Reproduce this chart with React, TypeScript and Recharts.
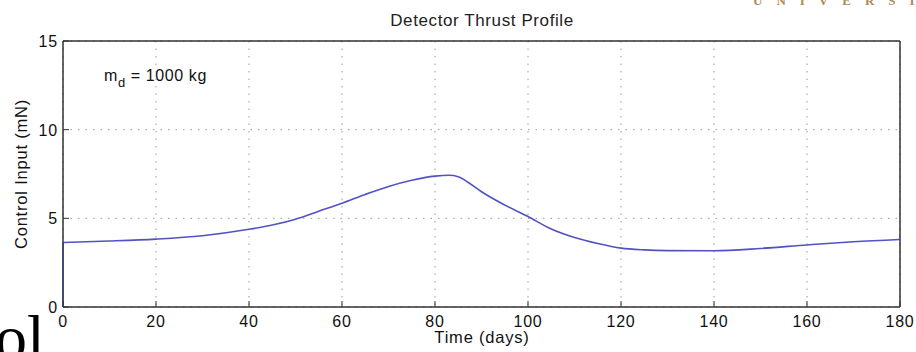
import React from "react";
import { LineChart, Line, XAxis, YAxis, CartesianGrid, ReferenceArea } from "recharts";

const days = [0, 10, 20, 30, 40, 45, 50, 55, 60, 65, 70, 75, 80, 83, 85, 87, 90, 95, 100, 105, 110, 115, 120, 125, 130, 140, 150, 160, 170, 180];
const thrust = [3.64, 3.72, 3.83, 4.02, 4.38, 4.62, 4.95, 5.4, 5.85, 6.35, 6.8, 7.15, 7.38, 7.43, 7.35, 7.05, 6.5, 5.75, 5.1, 4.4, 3.92, 3.58, 3.32, 3.22, 3.18, 3.17, 3.3, 3.5, 3.68, 3.81];
const startDays = [0, 0];
const startThrust = [0, 3.64];
const xTicks = [0, 20, 40, 60, 80, 100, 120, 140, 160, 180];
const yTicks = [0, 5, 10, 15];

const data = days.map((t, i) => ({ t, v: thrust[i] }));
const startData = startDays.map((t, i) => ({ t, v: startThrust[i] }));

const FONT = "'Liberation Sans', Arial, Helvetica, sans-serif";
const AXIS = "#333";

const BottomTick = (props: any) => {
  const { x, y, payload } = props;
  return (
    <text x={x} y={y + 26} textAnchor="middle" fontSize={16} letterSpacing={0.8} fill="#111" fontFamily={FONT}>
      {payload.value}
    </text>
  );
};
const LeftTick = (props: any) => {
  const { x, y, payload } = props;
  return (
    <text x={x - 11} y={y + 6} textAnchor="end" fontSize={16} letterSpacing={0.8} fill="#111" fontFamily={FONT}>
      {payload.value}
    </text>
  );
};
const NoTick = () => <g />;

export default function App() {
  return (
    <div style={{ position: "absolute", left: 0, top: 0, width: 916, height: 352, background: "#fff", overflow: "hidden" }}>
      <LineChart width={916} height={352} margin={{ top: 40, right: 15, bottom: 0, left: 0 }}>
        <CartesianGrid
          xAxisId="bottom"
          yAxisId="left"
          stroke="#9a9a9a"
          strokeDasharray="1.5 6"
          verticalValues={xTicks}
          horizontalValues={yTicks}
        />
        <XAxis
          xAxisId="bottom"
          dataKey="t"
          type="number"
          domain={[0, 180]}
          ticks={xTicks}
          height={45}
          tickSize={-6}
          tickMargin={0}
          tickLine={{ stroke: AXIS }}
          tick={<BottomTick />}
          axisLine={{ stroke: AXIS }}
          interval={0}
          allowDuplicatedCategory
        />
        <XAxis
          xAxisId="top"
          orientation="top"
          dataKey="t"
          type="number"
          domain={[0, 180]}
          ticks={xTicks}
          height={1}
          tickSize={-6}
          tickMargin={0}
          tickLine={{ stroke: AXIS }}
          tick={<NoTick />}
          axisLine={{ stroke: AXIS }}
          interval={0}
        />
        <YAxis
          yAxisId="left"
          type="number"
          domain={[0, 15]}
          ticks={yTicks}
          width={63}
          tickSize={-6}
          tickMargin={0}
          tickLine={{ stroke: AXIS }}
          tick={<LeftTick />}
          axisLine={{ stroke: AXIS }}
          interval={0}
        />
        <YAxis
          yAxisId="right"
          orientation="right"
          type="number"
          domain={[0, 15]}
          ticks={yTicks}
          width={1}
          tickSize={-6}
          tickMargin={0}
          tickLine={{ stroke: AXIS }}
          tick={<NoTick />}
          axisLine={{ stroke: AXIS }}
          interval={0}
        />
        <ReferenceArea
          xAxisId="bottom"
          yAxisId="left"
          x1={0}
          x2={180}
          y1={0}
          y2={15}
          fill="none"
          fillOpacity={0}
          stroke={AXIS}
          strokeWidth={1}
          ifOverflow="visible"
        />
        <Line
          xAxisId="bottom"
          yAxisId="left"
          data={startData}
          dataKey="v"
          type="linear"
          stroke="#5252c4"
          strokeWidth={1.6}
          dot={false}
          isAnimationActive={false}
        />
        <Line
          xAxisId="bottom"
          yAxisId="left"
          data={data}
          dataKey="v"
          type="monotone"
          stroke="#5252c4"
          strokeWidth={1.6}
          dot={false}
          isAnimationActive={false}
        />
      </LineChart>
      <svg width={916} height={352} style={{ position: "absolute", left: 0, top: 0, pointerEvents: "none" }}>
        <text x={482} y={26} textAnchor="middle" fontSize={17} letterSpacing={0.6} fill="#222" fontFamily={FONT}>
          Detector Thrust Profile
        </text>
        <text x={482} y={343} textAnchor="middle" fontSize={16.5} letterSpacing={0.8} fill="#111" fontFamily={FONT}>
          Time (days)
        </text>
        <text
          x={0}
          y={0}
          transform="translate(27,174) rotate(-90)"
          textAnchor="middle"
          fontSize={16.5}
          letterSpacing={0.8}
          fill="#111"
          fontFamily={FONT}
        >
          Control Input (mN)
        </text>
        <text x={104} y={81} fontSize={16} letterSpacing={0.6} fill="#111" fontFamily={FONT}>
          m<tspan dy={6} fontSize={13}>d</tspan>
          <tspan dy={-6}> = 1000 kg</tspan>
        </text>
        <text x={-5} y={359} fontSize={64} fill="#000" fontFamily="'Liberation Serif', 'Times New Roman', serif">
          ol
        </text>
        <text x={753} y={5} fontSize={13} fontWeight="bold" letterSpacing={14} fill="#b08a55" fontFamily="'Liberation Serif', serif">
          UNIVERSITY
        </text>
      </svg>
    </div>
  );
}
